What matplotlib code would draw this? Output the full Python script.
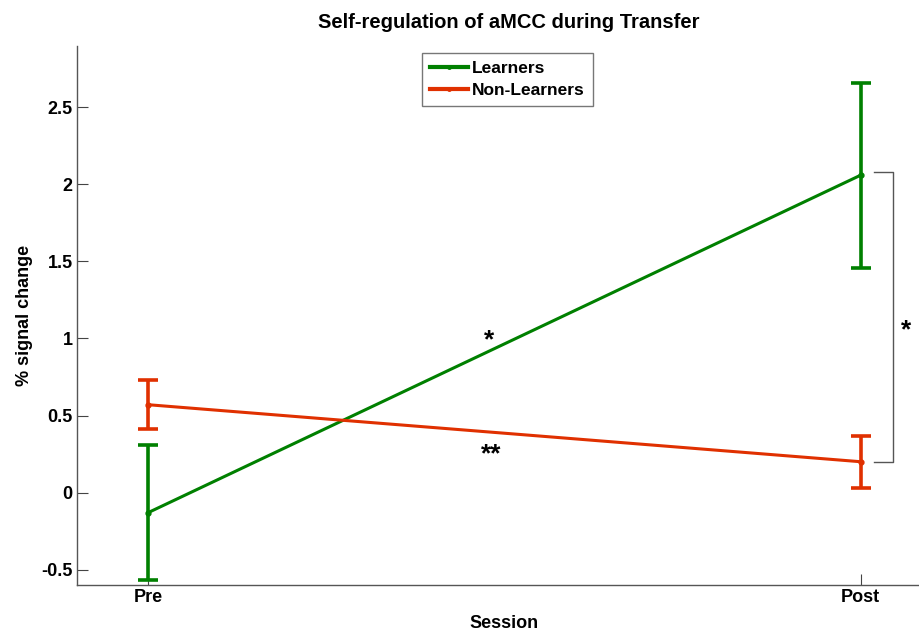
import matplotlib
matplotlib.use("Agg")
import matplotlib.pyplot as plt
from matplotlib.lines import Line2D

plt.rcParams['font.family'] = ['Liberation Sans', 'DejaVu Sans']
plt.rcParams['font.weight'] = 'bold'

sessions = ["Pre", "Post"]
x_pos = [1, 2]
learners = [-0.13, 2.06]
learners_err = [0.44, 0.60]
non_learners = [0.57, 0.20]
non_learners_err = [0.16, 0.17]
yticks = [-0.5, 0, 0.5, 1, 1.5, 2, 2.5]
ytick_labels = ["-0.5", "0", "0.5", "1", "1.5", "2", "2.5"]

green = "#008000"
red = "#e03000"

W, H = 920, 631
fig = plt.figure(figsize=(W / 100, H / 100), dpi=100)
ax = fig.add_axes([77 / W, (H - 585) / H, (932 - 77) / W, (585 - 45.7) / H])

ax.errorbar(x_pos, learners, yerr=learners_err, color=green, lw=2.2, elinewidth=2.6,
            capsize=7, capthick=2.6, marker='.', markersize=7, zorder=3)
ax.errorbar(x_pos, non_learners, yerr=non_learners_err, color=red, lw=2.2, elinewidth=2.6,
            capsize=7, capthick=2.6, marker='.', markersize=7, zorder=3)

ax.set_xlim(0.9, 2.1)
ax.set_ylim(-0.6, 2.9)
ax.set_xticks(x_pos)
ax.set_xticklabels(sessions, fontsize=13, fontweight='bold')
ax.set_yticks(yticks)
ax.set_yticklabels(ytick_labels, fontsize=13, fontweight='bold')
ax.tick_params(direction='in', length=8, width=0.8, color='#444444', pad=3)
for s in ['top', 'right']:
    ax.spines[s].set_visible(False)
for s in ['left', 'bottom']:
    ax.spines[s].set_color('#555555')
    ax.spines[s].set_linewidth(1.0)

ax.set_xlabel("Session", fontsize=13, fontweight='bold', labelpad=6)
ax.set_ylabel("% signal change", fontsize=13, fontweight='bold', labelpad=6)
fig.text(509 / W, 1 - 22 / H, "Self-regulation of aMCC during Transfer",
         ha='center', va='center', fontsize=14.5, fontweight='bold')

# significance markers
ax.text(1.478, 0.99, "*", ha='center', va='center', fontsize=19, fontweight='bold')
ax.text(1.482, 0.25, "**", ha='center', va='center', fontsize=19, fontweight='bold')

# bracket between groups at Post
bx0, bx1 = 2 + (874 - 861) / 713, 2 + (893 - 861) / 713
ax.plot([bx0, bx1, bx1, bx0], [learners[1] + 0.02, learners[1] + 0.02, non_learners[1], non_learners[1]],
        color='#555555', lw=1.0, clip_on=False)
ax.text(2 + (906 - 861) / 713, 1.05, "*", ha='center', va='center', fontsize=19, fontweight='bold')

handles = [Line2D([], [], color=green, lw=3, marker='.', markersize=5),
           Line2D([], [], color=red, lw=3, marker='.', markersize=5)]
leg = ax.legend(handles, ["Learners", "Non-Learners"], loc='upper left',
                bbox_to_anchor=((422 - 77) / (932 - 77), 1 - (52.7 - 45.7) / (585 - 45.7)),
                fontsize=12.5, frameon=True, fancybox=False, edgecolor='#555555',
                handlelength=2.2, handletextpad=0.25, borderpad=0.45, labelspacing=0.4,
                borderaxespad=0)
leg.get_frame().set_linewidth(1.0)
for t in leg.get_texts():
    t.set_fontweight('bold')

fig.savefig("out.png", dpi=100)
